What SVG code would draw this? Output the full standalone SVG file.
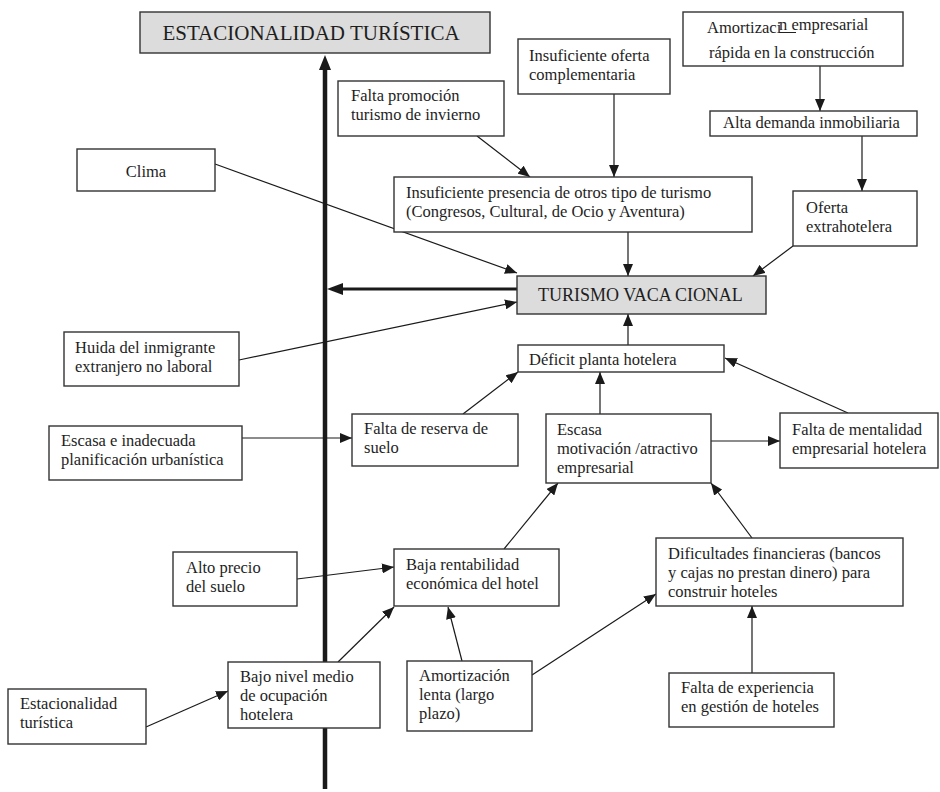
<svg xmlns="http://www.w3.org/2000/svg" width="940" height="792" viewBox="0 0 940 792" font-family="'Liberation Serif', 'DejaVu Serif', serif">
<defs>
<marker id="ah" viewBox="0 0 12 10" refX="12" refY="5" markerWidth="12" markerHeight="10" markerUnits="userSpaceOnUse" orient="auto">
<path d="M0,0 L12,5 L0,10 Z" fill="#1a1a1a"/>
</marker>
<style>
.b{fill:#fff;stroke:#333;stroke-width:1.4}
.g{fill:#dcdcdc;stroke:#333;stroke-width:1.4}
text{font-family:'Liberation Serif','Times New Roman',serif;font-size:16.5px;fill:#1e1e1e}
.c{stroke:#1a1a1a;stroke-width:1.2;fill:none}
.a{marker-end:url(#ah)}
</style>
</defs>
<rect width="940" height="792" fill="#fff"/>

<g id="connectors">
<line class="c" x1="325" y1="789" x2="325" y2="66" style="stroke-width:4.5"/>
<polygon points="325,55 319,70 331,70" fill="#1a1a1a"/>
<line class="c" x1="517" y1="289" x2="338" y2="289" style="stroke-width:3"/>
<polygon points="327,289 343,283 343,295" fill="#1a1a1a"/>
<line class="c a" x1="820" y1="66" x2="820" y2="111"/>
<line class="c a" x1="862" y1="136" x2="862" y2="191"/>
<line class="c a" x1="477" y1="136" x2="530" y2="177"/>
<line class="c a" x1="614" y1="94" x2="614" y2="177"/>
<line class="c a" x1="628" y1="232" x2="628" y2="276"/>
<line class="c a" x1="793" y1="246" x2="753" y2="276"/>
<line class="c a" x1="215" y1="164" x2="517" y2="273"/>
<line class="c a" x1="239" y1="360" x2="517" y2="302"/>
<line class="c a" x1="628" y1="345" x2="628" y2="314"/>
<line class="c a" x1="242" y1="438" x2="352" y2="438"/>
<line class="c a" x1="463" y1="414" x2="518" y2="372"/>
<line class="c a" x1="600" y1="414" x2="600" y2="372"/>
<line class="c a" x1="711" y1="441" x2="780" y2="441"/>
<line class="c a" x1="848" y1="413" x2="725" y2="358"/>
<line class="c a" x1="504" y1="549" x2="558" y2="483"/>
<line class="c a" x1="752" y1="538" x2="711" y2="483"/>
<line class="c a" x1="297" y1="579" x2="394" y2="567"/>
<line class="c a" x1="338" y1="662" x2="394" y2="607"/>
<line class="c a" x1="146" y1="727" x2="228" y2="691"/>
<line class="c a" x1="462" y1="661" x2="448" y2="607"/>
<line class="c a" x1="532" y1="675" x2="656" y2="594"/>
<line class="c a" x1="752" y1="673" x2="752" y2="606"/>
</g>

<g id="n-title">
<rect class="g" x="140" y="12" width="350" height="41"/>
<text x="311" y="40" text-anchor="middle" style="font-size:21px">ESTACIONALIDAD TURÍSTICA</text>
</g>
<g id="n-amort-emp">
<rect class="b" x="683" y="12" width="220" height="54"/>
<text x="707" y="33">Amortizaci</text>
<text x="779" y="30">n empresarial</text>
<line x1="779" y1="32.5" x2="796" y2="32.5" stroke="#222" stroke-width="1"/>
<text x="709" y="58">rápida en la construcción</text>
</g>
<g id="n-ins-oferta">
<rect class="b" x="518" y="39" width="152" height="55"/>
<text x="529" y="61">Insuficiente oferta</text>
<text x="529" y="80">complementaria</text>
</g>
<g id="n-falta-prom">
<rect class="b" x="338" y="81" width="166" height="55"/>
<text x="351" y="101">Falta promoción</text>
<text x="351" y="120">turismo de invierno</text>
</g>
<g id="n-alta-dem">
<rect class="b" x="710" y="111" width="207" height="25"/>
<text x="723" y="128">Alta demanda inmobiliaria</text>
</g>
<g id="n-clima">
<rect class="b" x="77" y="149" width="138" height="42"/>
<text x="146" y="177" text-anchor="middle">Clima</text>
</g>
<g id="n-ins-presencia">
<rect class="b" x="394" y="177" width="358" height="55"/>
<text x="406" y="198">Insuficiente presencia de otros tipo de turismo</text>
<text x="406" y="217">(Congresos, Cultural, de Ocio y Aventura)</text>
</g>
<g id="n-oferta">
<rect class="b" x="793" y="191" width="124" height="55"/>
<text x="806" y="213">Oferta</text>
<text x="806" y="232">extrahotelera</text>
</g>
<g id="n-turismo">
<rect class="g" x="517" y="276" width="249" height="38"/>
<text x="538" y="301" style="font-size:18px">TURISMO VACA<tspan dx="3">CIONAL</tspan></text>
</g>
<g id="n-huida">
<rect class="b" x="64" y="332" width="175" height="54"/>
<text x="75" y="353">Huida del inmigrante</text>
<text x="75" y="372">extranjero no laboral</text>
</g>
<g id="n-deficit">
<rect class="b" x="518" y="345" width="206" height="27"/>
<text x="529" y="365">Déficit planta hotelera</text>
</g>
<g id="n-escasa-plan">
<rect class="b" x="49" y="426" width="193" height="54"/>
<text x="61" y="446">Escasa e inadecuada</text>
<text x="61" y="465">planificación urbanística</text>
</g>
<g id="n-reserva">
<rect class="b" x="352" y="414" width="166" height="52"/>
<text x="364" y="434">Falta de reserva de</text>
<text x="364" y="453">suelo</text>
</g>
<g id="n-escasa-mot">
<rect class="b" x="546" y="414" width="165" height="69"/>
<text x="557" y="435">Escasa</text>
<text x="557" y="454">motivación /atractivo</text>
<text x="557" y="473">empresarial</text>
</g>
<g id="n-mentalidad">
<rect class="b" x="780" y="413" width="158" height="55"/>
<text x="792" y="435">Falta de mentalidad</text>
<text x="792" y="454">empresarial hotelera</text>
</g>
<g id="n-dificultades">
<rect class="b" x="656" y="538" width="247" height="68"/>
<text x="668" y="559">Dificultades financieras (bancos</text>
<text x="668" y="578">y cajas no prestan dinero) para</text>
<text x="668" y="597">construir hoteles</text>
</g>
<g id="n-alto-precio">
<rect class="b" x="173" y="552" width="124" height="54"/>
<text x="186" y="573">Alto precio</text>
<text x="186" y="592">del suelo</text>
</g>
<g id="n-baja-rent">
<rect class="b" x="394" y="549" width="165" height="57"/>
<text x="406" y="570">Baja rentabilidad</text>
<text x="406" y="589">económica del hotel</text>
</g>
<g id="n-bajo-nivel">
<rect class="b" x="228" y="662" width="152" height="66"/>
<text x="240" y="682">Bajo nivel medio</text>
<text x="240" y="701">de ocupación</text>
<text x="240" y="720">hotelera</text>
</g>
<g id="n-amort-lenta">
<rect class="b" x="407" y="661" width="125" height="70"/>
<text x="419" y="681">Amortización</text>
<text x="419" y="700">lenta (largo</text>
<text x="419" y="719">plazo)</text>
</g>
<g id="n-estac">
<rect class="b" x="8" y="689" width="138" height="55"/>
<text x="20" y="709">Estacionalidad</text>
<text x="20" y="728">turística</text>
</g>
<g id="n-experiencia">
<rect class="b" x="669" y="673" width="165" height="54"/>
<text x="681" y="693">Falta de experiencia</text>
<text x="681" y="712">en gestión de hoteles</text>
</g>
</svg>
